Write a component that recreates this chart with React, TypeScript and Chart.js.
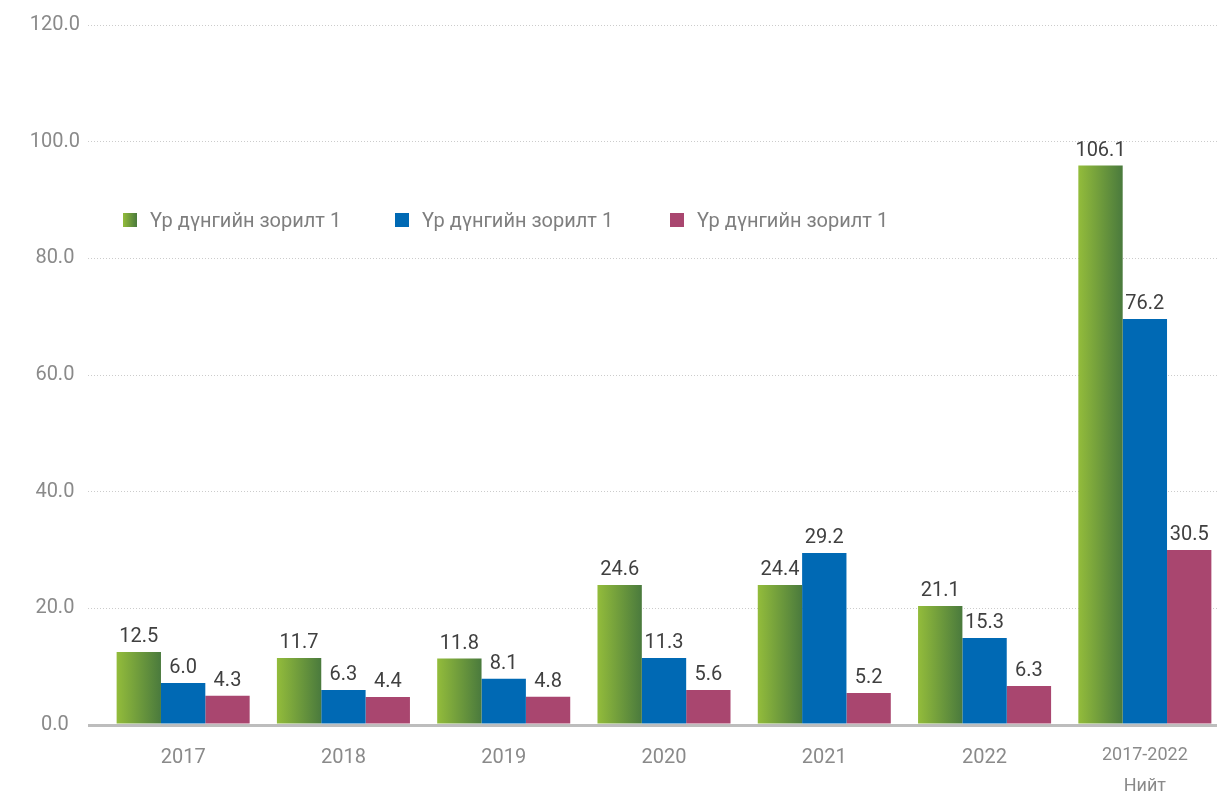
import React, { useEffect, useRef } from 'react';
import { Chart, registerables } from 'chart.js';

Chart.register(...registerables);

// ---------- data ----------
const categories: (string | string[])[] = ['2017', '2018', '2019', '2020', '2021', '2022', ['2017-2022', 'Нийт']];
const seriesNames = ['Үр дүнгийн зорилт 1', 'Үр дүнгийн зорилт 1', 'Үр дүнгийн зорилт 1'];

// bar heights as drawn in the reference
const greenValues = [12.5, 11.5, 11.4, 24.0, 24.0, 20.4, 95.9];
const blueValues = [7.2, 6.0, 7.95, 11.5, 29.5, 14.9, 69.6];
const pinkValues = [5.0, 4.8, 4.85, 6.0, 5.5, 6.7, 30.0];

// value labels as printed in the reference
const greenLabels = ['12.5', '11.7', '11.8', '24.6', '24.4', '21.1', '106.1'];
const blueLabels = ['6.0', '6.3', '8.1', '11.3', '29.2', '15.3', '76.2'];
const pinkLabels = ['4.3', '4.4', '4.8', '5.6', '5.2', '6.3', '30.5'];

const yMin = 0;
const yMax = 120;
const yStep = 20;

// ---------- styles ----------
const GREEN_LIGHT = '#93bc3b';
const GREEN_DARK = '#4a7a3d';
const BLUE = '#0069b4';
const PINK = '#a9466f';
const FONT = 'Roboto';
const CAT_PCT = 0.83;

const labelSets = [greenLabels, blueLabels, pinkLabels];

const dataLabelPlugin = {
  id: 'valueLabels',
  afterDatasetsDraw(chart: any) {
    const ctx = chart.ctx;
    ctx.save();
    ctx.font = `20px ${FONT}`;
    ctx.fillStyle = '#404040';
    ctx.textAlign = 'center';
    ctx.textBaseline = 'alphabetic';
    chart.data.datasets.forEach((_: any, i: number) => {
      const meta = chart.getDatasetMeta(i);
      meta.data.forEach((el: any, j: number) => {
        ctx.fillText(labelSets[i][j], el.x, el.y - 10);
      });
    });
    ctx.restore();
  },
};

function greenFill(c: any) {
  const chart = c.chart;
  const xs = chart.scales && chart.scales.x;
  if (!xs || c.dataIndex === undefined || !chart.chartArea) return '#6f9c3c';
  const cw = xs.width / categories.length;
  const bw = (cw * CAT_PCT) / 3;
  const cx = xs.getPixelForValue(c.dataIndex);
  const x0 = cx - 1.5 * bw;
  const x1 = x0 + bw;
  if (!isFinite(x0) || !isFinite(x1)) return '#6f9c3c';
  const g = chart.ctx.createLinearGradient(x0, 0, x1, 0);
  g.addColorStop(0, GREEN_LIGHT);
  g.addColorStop(1, GREEN_DARK);
  return g;
}

export default function App() {
  const canvasRef = useRef<HTMLCanvasElement | null>(null);

  useEffect(() => {
    if (!canvasRef.current) return;
    const isZero = (c: any) => c.tick && c.tick.value === 0;
    const chart = new Chart(canvasRef.current, {
      type: 'bar',
      data: {
        labels: categories as any,
        datasets: [
          { label: seriesNames[0], data: greenValues, backgroundColor: greenFill as any, borderWidth: 0, categoryPercentage: CAT_PCT, barPercentage: 1 },
          { label: seriesNames[1], data: blueValues, backgroundColor: BLUE, borderWidth: 0, categoryPercentage: CAT_PCT, barPercentage: 1 },
          { label: seriesNames[2], data: pinkValues, backgroundColor: PINK, borderWidth: 0, categoryPercentage: CAT_PCT, barPercentage: 1 },
        ],
      },
      options: {
        responsive: false,
        animation: false,
        devicePixelRatio: 1,
        layout: { padding: { top: 25, left: 0, right: 0, bottom: 0 } },
        plugins: {
          legend: { display: false },
          tooltip: { enabled: false },
        },
        scales: {
          x: {
            grid: { display: false },
            border: { display: false },
            ticks: {
              color: '#8a8a8a',
              padding: 7,
              maxRotation: 0,
              autoSkip: false,
              font: ((c: any) =>
                c.index === categories.length - 1
                  ? { family: FONT, size: 18, lineHeight: '31px' }
                  : { family: FONT, size: 20, lineHeight: '36px' }) as any,
            },
            afterFit: (s: any) => {
              s.height = 71;
            },
          },
          y: {
            min: yMin,
            max: yMax,
            ticks: {
              stepSize: yStep,
              color: '#8a8a8a',
              font: { family: FONT, size: 20 },
              crossAlign: 'center',
              padding: 8,
              callback: (v: any) => Number(v).toFixed(1),
            },
            grid: {
              color: ((c: any) => (isZero(c) ? '#bdbdbd' : '#cccccc')) as any,
              lineWidth: ((c: any) => (isZero(c) ? 3 : 1)) as any,
              tickLength: 15,
              tickColor: ((c: any) => (isZero(c) ? '#bdbdbd' : '#cccccc')) as any,
              tickWidth: ((c: any) => (isZero(c) ? 3 : 1)) as any,
              tickBorderDash: ((c: any) => (isZero(c) ? [] : [1, 2])) as any,
            },
            border: {
              display: false,
              dash: ((c: any) => (isZero(c) ? [] : [1, 2])) as any,
            },
            afterFit: (s: any) => {
              s.width = 103;
            },
          },
        },
      },
      plugins: [dataLabelPlugin],
    });
    return () => chart.destroy();
  }, []);

  const legendX = [123, 395, 670];
  const legendBg = [`linear-gradient(to right, ${GREEN_LIGHT}, ${GREEN_DARK})`, BLUE, PINK];

  return (
    <div style={{ position: 'fixed', left: 0, top: 0, width: 1217, height: 796, overflow: 'hidden', background: '#fff' }}>
      <canvas ref={canvasRef} width={1225} height={796} style={{ display: 'block' }} />
      {seriesNames.map((name, i) => (
        <div key={i}>
          <div style={{ position: 'absolute', left: legendX[i], top: 213, width: 14, height: 14, background: legendBg[i] }} />
          <div style={{ position: 'absolute', left: legendX[i] + 27, top: 208, lineHeight: '24px', fontFamily: FONT, fontSize: 20, color: '#7f7f7f', whiteSpace: 'nowrap' }}>
            {name}
          </div>
        </div>
      ))}
    </div>
  );
}
